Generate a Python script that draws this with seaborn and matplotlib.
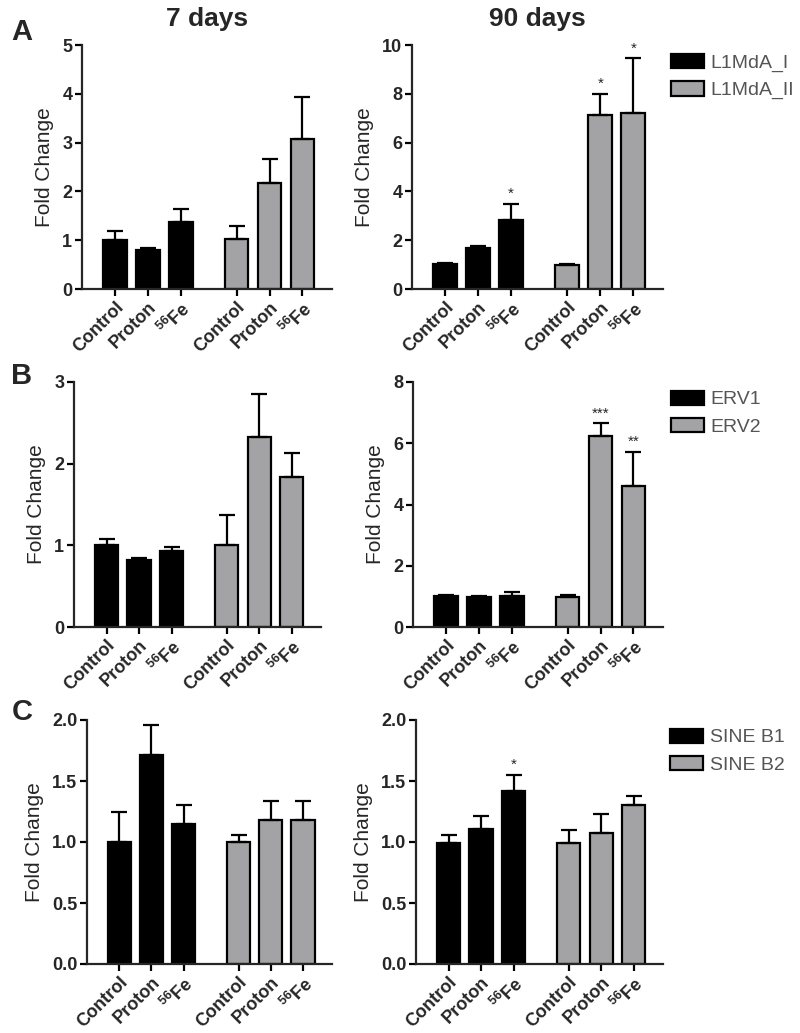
import numpy as np
import pandas as pd
import seaborn as sns
import matplotlib.pyplot as plt

# treatments on the x axis, two genes per panel
treatments = ["Control", "Proton", "$^{56}$Fe"]

a_genes = ["L1MdA_I", "L1MdA_II"]
a7_mean = [1.00, 0.79, 1.37, 1.02, 2.18, 3.07]
a7_sem = [0.18, 0.05, 0.26, 0.28, 0.49, 0.86]
a90_mean = [1.02, 1.68, 2.83, 1.00, 7.15, 7.20]
a90_sem = [0.03, 0.09, 0.66, 0.02, 0.85, 2.25]
a90_stars = ["", "", "*", "", "*", "*"]

b_genes = ["ERV1", "ERV2"]
b7_mean = [1.00, 0.82, 0.93, 1.00, 2.33, 1.84]
b7_sem = [0.08, 0.03, 0.05, 0.37, 0.52, 0.29]
b90_mean = [1.02, 0.98, 1.02, 0.97, 6.25, 4.60]
b90_sem = [0.02, 0.02, 0.12, 0.08, 0.40, 1.12]
b90_stars = ["", "", "", "", "***", "**"]

c_genes = ["SINE B1", "SINE B2"]
c7_mean = [1.00, 1.71, 1.15, 1.00, 1.18, 1.18]
c7_sem = [0.25, 0.25, 0.15, 0.06, 0.16, 0.16]
c90_mean = [0.99, 1.11, 1.42, 0.99, 1.07, 1.30]
c90_sem = [0.07, 0.10, 0.13, 0.11, 0.16, 0.08]
c90_stars = ["", "", "*", "", "", ""]

sns.set_style("ticks")
plt.rcParams['font.family'] = ['Liberation Sans', 'DejaVu Sans']
plt.rcParams['mathtext.fontset'] = 'custom'
plt.rcParams['mathtext.rm'] = 'Liberation Sans'
plt.rcParams['mathtext.default'] = 'regular'

BLACK = "#000000"
GRAY = "#a3a3a6"

# x positions: 3 bars, a gap, 3 bars
pos = [0, 1, 2, 3.7, 4.7, 5.7]


def draw(ax, mean, sem, genes, ymax, step, stars=None, legend=False):
    df = pd.DataFrame({"pos": pos, "value": mean, "sem": sem,
                       "gene": [genes[0]] * 3 + [genes[1]] * 3})
    sns.barplot(data=df, x="pos", y="value", hue="gene", palette=[BLACK, GRAY],
                native_scale=True, width=0.72, dodge=False, errorbar=None,
                edgecolor="black", linewidth=1.6, legend=legend, ax=ax)
    ax.errorbar(df["pos"], df["value"], yerr=[np.zeros(len(df)), df["sem"]],
                fmt="none", ecolor="black", elinewidth=1.6, capsize=5.5,
                capthick=1.6)
    if stars:
        for x, m, s, st in zip(pos, mean, sem, stars):
            if st:
                ax.text(x, m + s + ymax * 0.012, st, ha="center", va="bottom",
                        fontsize=11)
    ax.set_xlim(-1, 6.6)
    ax.set_ylim(0, ymax)
    ax.set_yticks(np.arange(0, ymax + step / 2, step))
    ax.set_xticks(pos)
    ax.set_xticklabels(treatments * 2, rotation=45, ha="right",
                       rotation_mode="anchor", fontsize=13, fontweight="bold")
    for t in ax.get_yticklabels():
        t.set_fontweight("bold")
        t.set_fontsize(13)
    ax.set_xlabel("")
    ax.set_ylabel("")
    sns.despine(ax=ax)
    for sp in ["left", "bottom"]:
        ax.spines[sp].set_linewidth(1.6)
    ax.tick_params(width=1.6, length=5, color="black", pad=2)
    if legend:
        sns.move_legend(ax, "upper left", bbox_to_anchor=(1.03, 0.965),
                        frameon=False, title=None, fontsize=14,
                        handlelength=1.7, handleheight=0.75,
                        handletextpad=0.35, labelspacing=0.5,
                        borderpad=0, borderaxespad=0)
        for t in ax.get_legend().get_texts():
            t.set_color("#555555")
        for h in ax.get_legend().legend_handles:
            h.set_edgecolor("black")
            h.set_linewidth(1.6)


fig = plt.figure(figsize=(8, 10.33), dpi=100)
W, H = 800, 1033


def add_ax(x0, x1, y0, y1):
    return fig.add_axes([x0 / W, 1 - y1 / H, (x1 - x0) / W, (y1 - y0) / H])


ax_a7 = add_ax(82, 332, 45, 289)
ax_a90 = add_ax(412, 663, 45, 289)
ax_b7 = add_ax(74, 321, 382, 627)
ax_b90 = add_ax(413, 663, 382, 627)
ax_c7 = add_ax(87, 332, 720, 964)
ax_c90 = add_ax(416, 663, 720, 964)

draw(ax_a7, a7_mean, a7_sem, a_genes, 5, 1)
draw(ax_a90, a90_mean, a90_sem, a_genes, 10, 2, a90_stars, legend=True)
draw(ax_b7, b7_mean, b7_sem, b_genes, 3, 1)
draw(ax_b90, b90_mean, b90_sem, b_genes, 8, 2, b90_stars, legend=True)
draw(ax_c7, c7_mean, c7_sem, c_genes, 2.0, 0.5)
draw(ax_c90, c90_mean, c90_sem, c_genes, 2.0, 0.5, c90_stars, legend=True)

for ax in [ax_a7, ax_a90, ax_b7, ax_b90, ax_c7, ax_c90]:
    ax.set_ylabel("Fold Change", fontsize=15, labelpad=6)

ax_a7.set_title("7 days", fontsize=19, fontweight="bold", pad=14)
ax_a90.set_title("90 days", fontsize=19, fontweight="bold", pad=14)

fig.text(22 / W, 1 - 32 / H, "A", fontsize=21, fontweight="bold", ha="center", va="center")
fig.text(22 / W, 1 - 376 / H, "B", fontsize=21, fontweight="bold", ha="center", va="center")
fig.text(22 / W, 1 - 712 / H, "C", fontsize=21, fontweight="bold", ha="center", va="center")

fig.savefig("out.png", dpi=100)
